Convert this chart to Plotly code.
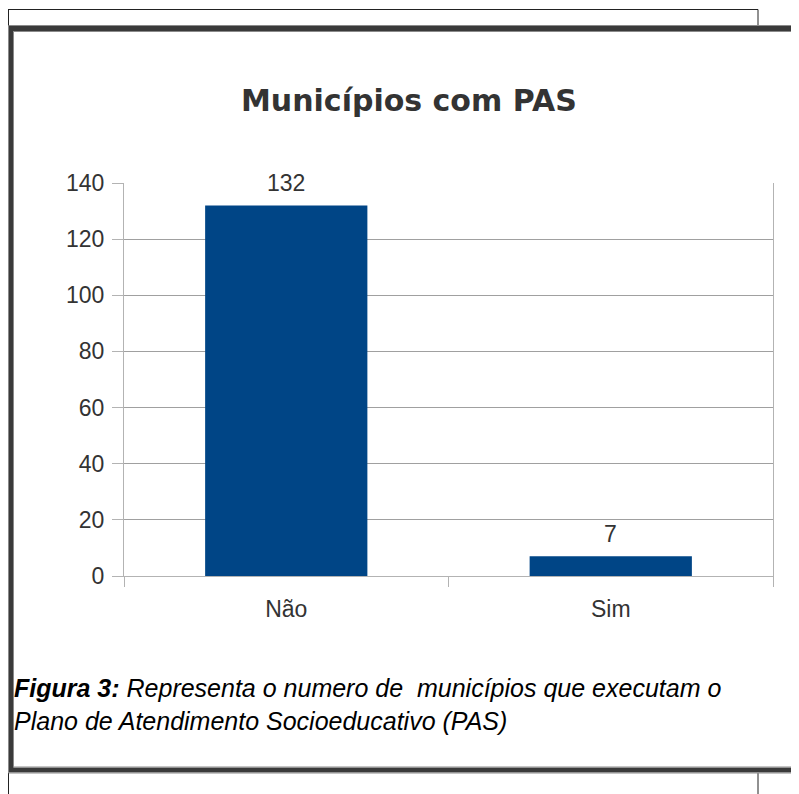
import plotly.graph_objects as go

categories = ["Não", "Sim"]
values = [132, 7]
y_ticks = [0, 20, 40, 60, 80, 100, 120, 140]
title_text = "Municípios com PAS"
caption_line1_bold = "Figura 3:"
caption_line1_rest = " Representa o numero de &nbsp;municípios que executam o"
caption_line2 = "Plano de Atendimento Socioeducativo (PAS)"

OFF = 8  # page body margin
W, H = 799, 794 - OFF
L, R, T, B = 124 - OFF, 773 - OFF, 183 - OFF, 576 - OFF


def px(x):
    return (x - OFF - L) / (R - L)


def py(y):
    return (B - (y - OFF)) / (B - T)


fig = go.Figure()
fig.add_trace(go.Bar(
    x=categories, y=values, width=0.5,
    marker=dict(color="#004586", line=dict(width=0)),
    hoverinfo="skip",
))

for c, v in zip(categories, values):
    fig.add_annotation(x=c, y=v, xref="x", yref="y", text=str(v), showarrow=False,
                       yanchor="bottom", yshift=7,
                       font=dict(family="Liberation Sans, Arial", size=23, color="#333333"))

fig.add_annotation(x=px(409), y=py(100), xref="paper", yref="paper", text="<b>" + title_text + "</b>",
                   showarrow=False, xanchor="center", yanchor="middle",
                   font=dict(family="DejaVu Sans", size=30, color="#333333"))

cap_font = dict(family="Liberation Sans, Arial", size=25, color="#000000")
fig.add_annotation(x=px(12), y=py(704), xref="paper", yref="paper",
                   text="<b><i>" + caption_line1_bold + "</i></b><i>" + caption_line1_rest
                        + "</i><br><i>" + caption_line2 + "</i>",
                   showarrow=False, xanchor="left", yanchor="middle", align="left", font=cap_font)

shapes = []
# thin outer lines
for (x0, y0, x1, y1) in [(8, 9.5, 758, 9.5), (8.5, 9.5, 8.5, 26), (758, 9.5, 758, 26),
                         (8.5, 773, 8.5, 800), (758, 773, 758, 800)]:
    shapes.append(dict(type="line", xref="paper", yref="paper", x0=px(x0), y0=py(y0), x1=px(x1), y1=py(y1),
                       line=dict(color="#222222", width=1)))
# thick frame
shapes.append(dict(type="rect", xref="paper", yref="paper", x0=px(11), y0=py(28.5), x1=px(860), y1=py(770),
                   line=dict(color="#3a3a3a", width=5), fillcolor="rgba(0,0,0,0)"))
shapes.append(dict(type="rect", xref="paper", yref="paper", x0=px(8.5), y0=py(25.5), x1=px(860), y1=py(773),
                   line=dict(color="#8a8a8a", width=1), fillcolor="rgba(0,0,0,0)"))
shapes.append(dict(type="rect", xref="paper", yref="paper", x0=px(13.5), y0=py(31.5), x1=px(860), y1=py(767),
                   line=dict(color="#8a8a8a", width=1), fillcolor="rgba(0,0,0,0)"))

fig.update_layout(
    width=W, height=H,
    margin=dict(l=L, r=W - R, t=T, b=H - B, pad=0),
    paper_bgcolor="white", plot_bgcolor="white",
    showlegend=False,
    shapes=shapes,
    bargap=0.5,
    xaxis=dict(
        type="category", range=[-0.5, 1.5], tickson="boundaries",
        ticks="outside", ticklen=10, tickcolor="#b3b3b3", tickwidth=1,
        showline=True, linecolor="#b3b3b3", linewidth=1,
        showgrid=False, zeroline=False, automargin=False,
        tickfont=dict(family="Liberation Sans, Arial", size=23, color="#333333"),
        ticklabelstandoff=12,
    ),
    yaxis=dict(
        range=[0, 140], tickvals=y_ticks, ticktext=[str(t) for t in y_ticks],
        ticks="outside", ticklen=11, tickcolor="#b3b3b3", tickwidth=1,
        showline=True, linecolor="#b3b3b3", linewidth=1, mirror=True,
        showgrid=True, gridcolor="#a0a0a0", gridwidth=1,
        zeroline=False, automargin=False,
        tickfont=dict(family="Liberation Sans, Arial", size=23, color="#333333"),
        ticklabelstandoff=3,
    ),
)

fig.write_html("out.html")
